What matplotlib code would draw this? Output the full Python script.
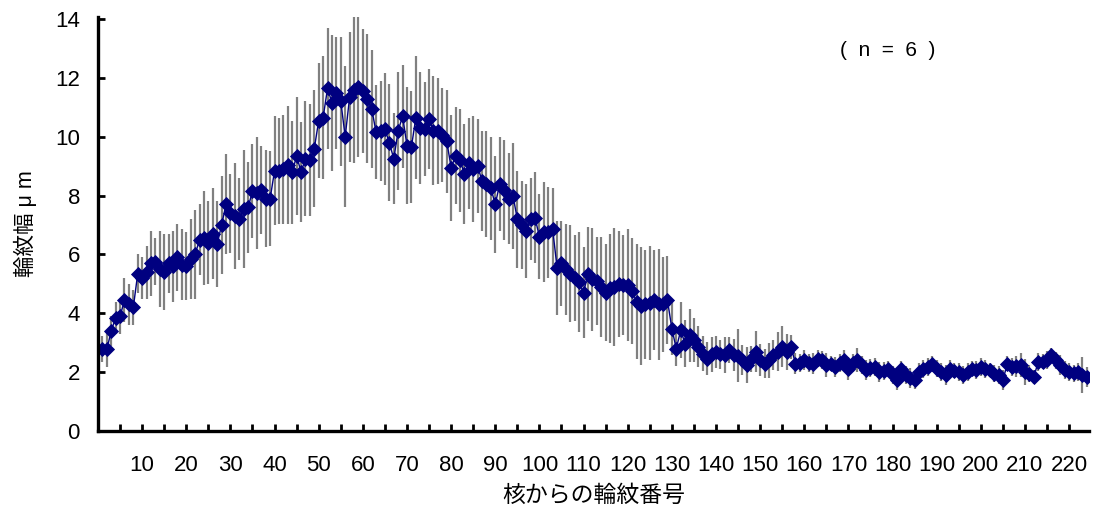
import matplotlib
matplotlib.use("Agg")
import matplotlib.pyplot as plt
import numpy as np
from matplotlib.ticker import MultipleLocator, FixedLocator

plt.rcParams['font.family'] = ['Liberation Sans', 'Noto Sans CJK JP', 'DejaVu Sans']

ring_width_mean = [
    2.78, 2.78, 3.40, 3.85, 3.90, 4.45, 4.30, 4.20, 5.35, 5.20,
    5.40, 5.70, 5.75, 5.50, 5.40, 5.70, 5.60, 5.90, 5.65, 5.60,
    5.85, 6.00, 6.50, 6.55, 6.40, 6.70, 6.35, 7.00, 7.70, 7.40,
    7.30, 7.20, 7.55, 7.60, 8.15, 8.10, 8.20, 7.90, 7.90, 8.85,
    8.85, 8.90, 9.05, 8.80, 9.35, 8.80, 9.25, 9.20, 9.60, 10.55,
    10.65, 11.65, 11.15, 11.50, 11.20, 10.00, 11.35, 11.60, 11.70, 11.55,
    11.30, 10.95, 10.15, 10.20, 10.25, 9.80, 9.25, 10.20, 10.70, 9.70,
    9.65, 10.65, 10.30, 10.25, 10.60, 10.20, 10.20, 10.05, 9.85, 8.95,
    9.35, 9.20, 8.75, 9.10, 8.90, 9.00, 8.50, 8.40, 8.25, 7.70,
    8.40, 8.20, 7.90, 8.00, 7.20, 7.00, 6.80, 7.20, 7.25, 6.60,
    6.75, 6.75, 6.85, 5.55, 5.70, 5.50, 5.35, 5.20, 5.05, 4.70,
    5.35, 5.15, 5.10, 4.90, 4.70, 4.85, 4.90, 5.00, 4.95, 4.95,
    4.75, 4.40, 4.25, 4.30, 4.35, 4.45, 4.30, 4.30, 4.45, 3.48,
    2.80, 3.42, 2.97, 3.25, 3.10, 2.86, 2.63, 2.46, 2.60, 2.69,
    2.60, 2.58, 2.75, 2.58, 2.55, 2.41, 2.24, 2.45, 2.69, 2.41,
    2.29, 2.40, 2.58, 2.70, 2.86, 2.69, 2.86, 2.29, 2.30, 2.41,
    2.30, 2.29, 2.46, 2.41, 2.24, 2.29, 2.18, 2.30, 2.41, 2.12,
    2.30, 2.41, 2.24, 2.07, 2.15, 2.18, 2.01, 2.05, 2.12, 1.90,
    1.73, 2.12, 1.90, 1.80, 1.73, 2.01, 2.10, 2.18, 2.29, 2.12,
    2.00, 1.90, 2.12, 2.05, 2.01, 1.90, 2.00, 2.12, 2.07, 2.18,
    2.10, 2.07, 1.95, 1.90, 1.73, 2.29, 2.18, 2.20, 2.24, 2.01,
    1.95, 1.84, 2.35, 2.35, 2.41, 2.58, 2.40, 2.24, 2.07, 2.00,
    1.96, 2.01, 1.90, 1.84,
]

ring_width_sd = [
    0.45, 0.60, 0.50, 0.55, 0.60, 0.75, 0.70, 0.60, 0.65, 0.70,
    0.90, 1.10, 0.80, 1.30, 1.30, 1.00, 1.20, 1.15, 1.20, 1.15,
    1.35, 1.50, 1.20, 1.60, 1.40, 1.55, 1.45, 1.65, 1.70, 1.35,
    1.80, 1.40, 2.00, 1.55, 1.60, 1.90, 1.50, 1.65, 1.60, 1.85,
    1.80, 1.85, 2.00, 1.75, 2.00, 1.70, 1.95, 1.90, 2.00, 1.95,
    2.10, 2.05, 2.30, 1.90, 2.20, 2.40, 2.20, 2.50, 2.40, 2.10,
    2.20, 2.00, 1.60, 1.70, 1.90, 2.00, 1.55, 2.00, 1.75, 2.00,
    1.90, 2.10, 1.90, 1.60, 1.70, 1.85, 1.80, 1.60, 1.75, 1.80,
    1.65, 1.75, 1.70, 1.55, 1.80, 1.60, 1.70, 1.80, 1.75, 1.65,
    1.60, 1.70, 1.55, 1.80, 1.65, 1.50, 1.60, 1.40, 1.55, 1.45,
    1.70, 1.55, 1.40, 1.60, 1.45, 1.55, 1.65, 1.45, 1.70, 1.55,
    1.60, 1.75, 1.50, 1.70, 1.65, 1.85, 2.00, 1.80, 1.70, 1.90,
    1.80, 1.95, 2.00, 1.85, 1.95, 1.70, 1.90, 1.60, 1.50, 0.90,
    0.60, 0.95, 0.80, 0.90, 0.75, 0.70, 0.60, 0.55, 0.60, 0.55,
    0.50, 0.60, 0.45, 0.55, 0.90, 0.50, 0.60, 0.45, 0.70, 0.55,
    0.50, 0.60, 0.50, 0.65, 0.70, 0.60, 0.40, 0.35, 0.30, 0.35,
    0.30, 0.35, 0.30, 0.30, 0.40, 0.25, 0.35, 0.30, 0.35, 0.40,
    0.30, 0.40, 0.30, 0.35, 0.30, 0.30, 0.35, 0.30, 0.25, 0.30,
    0.35, 0.25, 0.30, 0.35, 0.30, 0.30, 0.30, 0.30, 0.25, 0.30,
    0.30, 0.35, 0.30, 0.25, 0.30, 0.30, 0.30, 0.25, 0.30, 0.30,
    0.30, 0.25, 0.30, 0.30, 0.35, 0.25, 0.30, 0.35, 0.40, 0.45,
    0.30, 0.25, 0.30, 0.25, 0.30, 0.25, 0.30, 0.35, 0.30, 0.30,
    0.30, 0.30, 0.60, 0.35,
]

ring_number = list(range(1, len(ring_width_mean) + 1))
x_tick_labels = [str(v) for v in range(10, 230, 10)]

fig = plt.figure(figsize=(10.96, 5.18), dpi=100)
ax = fig.add_axes([98/1096, (518-431)/518, (1089-98)/1096, (431-17)/518])

ax.errorbar(ring_number, ring_width_mean, yerr=ring_width_sd, fmt='none',
            ecolor='#808080', elinewidth=1.6, capsize=0, zorder=1)
ax.plot(ring_number, ring_width_mean, color='#000080', linewidth=1.0,
        marker='D', markersize=7.2, markerfacecolor='#000080',
        markeredgecolor='#000080', markeredgewidth=0.6, zorder=2)

ax.set_xlim(0, 224.5)
ax.set_ylim(0, 14.07)
ax.yaxis.set_major_locator(FixedLocator(list(range(0, 15, 2))))
ax.xaxis.set_major_locator(FixedLocator(list(range(10, 230, 10))))
ax.set_xticklabels(x_tick_labels)
ax.xaxis.set_minor_locator(FixedLocator(list(range(5, 225, 10))))

for s in ['top', 'right']:
    ax.spines[s].set_visible(False)
for s in ['left', 'bottom']:
    ax.spines[s].set_linewidth(2.4)
    ax.spines[s].set_color('black')

ax.tick_params(axis='both', which='both', direction='in', length=5, width=2,
               color='black', labelsize=16)
ax.tick_params(axis='x', which='major', pad=17)
ax.tick_params(axis='y', which='major', pad=13)

ax.set_xlabel('核からの輪紋番号', fontsize=16.5, labelpad=6)
ax.set_ylabel('輪紋幅 μ m', fontsize=15.5, labelpad=13)

ax.text(0.797, 0.918, '(  n  =  6  )', transform=ax.transAxes, fontsize=15,
        ha='center', va='center')

fig.savefig('out.png', dpi=100)
